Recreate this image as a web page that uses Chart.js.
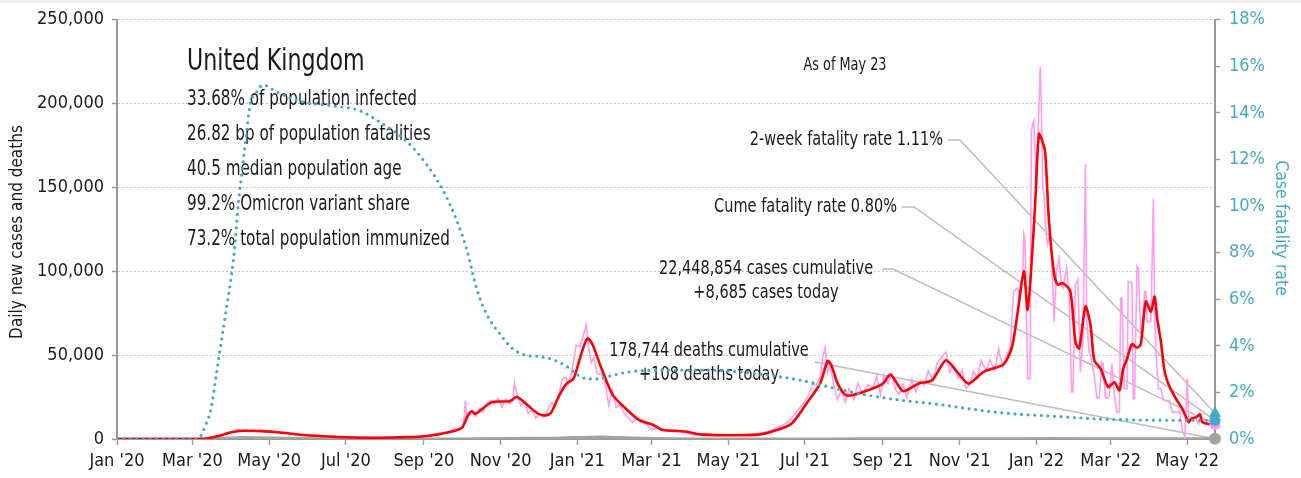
<!DOCTYPE html>
<html>
<head>
<meta charset="utf-8">
<title>United Kingdom COVID-19</title>
<script src="https://cdn.jsdelivr.net/npm/chart.js@4.4.0/dist/chart.umd.min.js"></script>
<style>
  html, body { margin: 0; padding: 0; background: #fff; }
  #wrap { position: relative; width: 1301px; height: 478px; }
  #topbar { position: absolute; left: 0; top: 0; width: 1301px; height: 3px; background: #eeeeee; }
  canvas { display: block; }
</style>
</head>
<body>
<div id="wrap">
  <canvas id="chart" width="1301" height="478"></canvas>
  <div id="topbar"></div>
</div>
<script>
    'use strict';

    // ============================================
    // Data
    // ============================================

    const lastDate = '2022-05-23';

    const tickDates = ['2020-01-01', '2020-03-01', '2020-05-01', '2020-07-01', '2020-09-01', '2020-11-01',
        '2021-01-01', '2021-03-01', '2021-05-01', '2021-07-01', '2021-09-01', '2021-11-01',
        '2022-01-01', '2022-03-01', '2022-05-01'];
    const tickLabels = ["Jan '20", "Mar '20", "May '20", "Jul '20", "Sep '20", "Nov '20",
        "Jan '21", "Mar '21", "May '21", "Jul '21", "Sep '21", "Nov '21",
        "Jan '22", "Mar '22", "May '22"];

    // Daily reported cases
    const dailyCases = [
        ['2020-01-01', 0], ['2020-02-28', 15], ['2020-03-10', 80], ['2020-03-16', 400], ['2020-03-21', 1300],
        ['2020-03-26', 2500], ['2020-03-31', 3600], ['2020-04-03', 4600], ['2020-04-06', 5800], ['2020-04-09', 4500],
        ['2020-04-12', 5600], ['2020-04-15', 4400], ['2020-04-18', 5500], ['2020-04-21', 4300], ['2020-04-24', 5400],
        ['2020-04-28', 4200], ['2020-05-02', 5000], ['2020-05-06', 4000], ['2020-05-10', 3600], ['2020-05-15', 3300],
        ['2020-05-20', 2800], ['2020-05-27', 2200], ['2020-06-05', 1700], ['2020-06-15', 1300], ['2020-06-25', 1100],
        ['2020-07-08', 800], ['2020-07-22', 700], ['2020-08-05', 850], ['2020-08-18', 1100], ['2020-08-28', 1400],
        ['2020-09-05', 2100], ['2020-09-11', 3300], ['2020-09-16', 3700], ['2020-09-21', 4300], ['2020-09-25', 6500],
        ['2020-09-29', 5500], ['2020-10-02', 7000], ['2020-10-03', 12800], ['2020-10-04', 23000], ['2020-10-05', 12500],
        ['2020-10-07', 14200], ['2020-10-10', 15500], ['2020-10-12', 13500], ['2020-10-15', 18000], ['2020-10-18', 16000],
        ['2020-10-21', 21300], ['2020-10-24', 23000], ['2020-10-27', 20500], ['2020-10-30', 24400], ['2020-11-02', 18900],
        ['2020-11-05', 24100], ['2020-11-08', 21000], ['2020-11-11', 22900], ['2020-11-12', 33500], ['2020-11-14', 26800],
        ['2020-11-17', 20000], ['2020-11-20', 22000], ['2020-11-23', 15500], ['2020-11-26', 17500], ['2020-11-29', 12300],
        ['2020-12-02', 14900], ['2020-12-05', 13000], ['2020-12-08', 16500], ['2020-12-11', 21600], ['2020-12-14', 20300],
        ['2020-12-17', 25200], ['2020-12-20', 35900], ['2020-12-23', 36800], ['2020-12-25', 32700], ['2020-12-28', 41400],
        ['2020-12-31', 55900], ['2021-01-03', 54900], ['2021-01-06', 62300], ['2021-01-08', 68100], ['2021-01-10', 54800],
        ['2021-01-12', 45500], ['2021-01-14', 48700], ['2021-01-17', 38600], ['2021-01-20', 38900], ['2021-01-23', 33600],
        ['2021-01-26', 20100], ['2021-01-29', 29100], ['2021-02-01', 18600], ['2021-02-04', 20600], ['2021-02-07', 15800],
        ['2021-02-10', 13000], ['2021-02-14', 9800], ['2021-02-17', 12700], ['2021-02-21', 9800], ['2021-02-25', 9000],
        ['2021-03-01', 5400], ['2021-03-05', 6600], ['2021-03-09', 5900], ['2021-03-14', 4600], ['2021-03-20', 5500],
        ['2021-03-27', 3800], ['2021-04-05', 2300], ['2021-04-12', 3600], ['2021-04-20', 2500], ['2021-04-30', 2400],
        ['2021-05-10', 2300], ['2021-05-20', 2900], ['2021-05-28', 3500], ['2021-06-05', 5300], ['2021-06-12', 7700],
        ['2021-06-18', 10500], ['2021-06-24', 16100], ['2021-06-29', 20500], ['2021-07-03', 24900], ['2021-07-07', 32500],
        ['2021-07-10', 32400], ['2021-07-13', 36700], ['2021-07-15', 48500], ['2021-07-17', 54700], ['2021-07-19', 39900],
        ['2021-07-21', 44100], ['2021-07-24', 31800], ['2021-07-27', 23500], ['2021-07-30', 29600], ['2021-08-02', 21900],
        ['2021-08-05', 30200], ['2021-08-09', 23500], ['2021-08-12', 33100], ['2021-08-16', 26700], ['2021-08-20', 32400],
        ['2021-08-24', 30500], ['2021-08-27', 37600], ['2021-08-30', 26500], ['2021-09-02', 38200], ['2021-09-05', 33000],
        ['2021-09-08', 38900], ['2021-09-11', 29500], ['2021-09-14', 26600], ['2021-09-17', 32700], ['2021-09-20', 24900],
        ['2021-09-24', 35600], ['2021-09-27', 28000], ['2021-10-01', 35000], ['2021-10-04', 31800], ['2021-10-07', 40700],
        ['2021-10-11', 34600], ['2021-10-14', 45100], ['2021-10-18', 49200], ['2021-10-21', 52000], ['2021-10-24', 39900],
        ['2021-10-27', 43900], ['2021-10-31', 36200], ['2021-11-03', 41300], ['2021-11-06', 30300], ['2021-11-09', 32300],
        ['2021-11-12', 40400], ['2021-11-15', 36100], ['2021-11-18', 46800], ['2021-11-22', 40900], ['2021-11-25', 47200],
        ['2021-11-29', 40900], ['2021-12-02', 53900], ['2021-12-05', 43000], ['2021-12-09', 51300], ['2021-12-11', 54000],
        ['2021-12-14', 88000], ['2021-12-17', 90000], ['2021-12-19', 84000], ['2021-12-21', 95000], ['2021-12-22', 122000],
        ['2021-12-23', 118000], ['2021-12-25', 36000], ['2021-12-27', 36000], ['2021-12-28', 183000], ['2021-12-29', 188000],
        ['2021-12-30', 190000], ['2022-01-01', 150000], ['2022-01-04', 222000], ['2022-01-05', 195000], ['2022-01-06', 150000],
        ['2022-01-07', 146000], ['2022-01-09', 120000], ['2022-01-10', 116000], ['2022-01-12', 124000], ['2022-01-14', 92000],
        ['2022-01-15', 70000], ['2022-01-17', 100000], ['2022-01-19', 108000], ['2022-01-21', 91000], ['2022-01-22', 90000],
        ['2022-01-25', 102000], ['2022-01-27', 88000], ['2022-01-29', 28000], ['2022-01-30', 28000], ['2022-02-01', 92000],
        ['2022-02-03', 95000], ['2022-02-05', 40000], ['2022-02-07', 60000], ['2022-02-09', 164000], ['2022-02-10', 70000],
        ['2022-02-12', 52000], ['2022-02-14', 46000], ['2022-02-16', 38000], ['2022-02-18', 24500], ['2022-02-20', 24500],
        ['2022-02-22', 46000], ['2022-02-23', 45000], ['2022-02-25', 24500], ['2022-02-27', 24500], ['2022-02-28', 26000],
        ['2022-03-02', 45000], ['2022-03-04', 26000], ['2022-03-06', 16000], ['2022-03-08', 16000], ['2022-03-09', 84000],
        ['2022-03-10', 84000], ['2022-03-12', 30000], ['2022-03-14', 30000], ['2022-03-15', 94000], ['2022-03-18', 93000],
        ['2022-03-19', 24000], ['2022-03-20', 24000], ['2022-03-22', 103000], ['2022-03-23', 102000], ['2022-03-25', 63000],
        ['2022-03-26', 63000], ['2022-03-28', 88000], ['2022-03-29', 88000], ['2022-03-30', 70000], ['2022-04-02', 70000],
        ['2022-04-04', 143000], ['2022-04-05', 70000], ['2022-04-06', 53000], ['2022-04-08', 30000], ['2022-04-10', 30000],
        ['2022-04-12', 23000], ['2022-04-17', 23000], ['2022-04-19', 16000], ['2022-04-25', 16000], ['2022-04-27', 5000],
        ['2022-04-29', 1400], ['2022-05-01', 36000], ['2022-05-02', 11000], ['2022-05-05', 11000], ['2022-05-07', 13000],
        ['2022-05-10', 9000], ['2022-05-12', 14000], ['2022-05-15', 9000], ['2022-05-18', 11000], ['2022-05-21', 8000],
        ['2022-05-23', 8685]
    ];

    // 7-day average of cases
    const avgCases = [
        ['2020-01-01', 0], ['2020-03-01', 10], ['2020-03-12', 300], ['2020-03-20', 1500], ['2020-04-01', 4000],
        ['2020-04-10', 4900], ['2020-04-25', 4700], ['2020-05-08', 4000], ['2020-05-31', 2200], ['2020-06-30', 1000],
        ['2020-07-23', 750], ['2020-08-20', 1100], ['2020-09-04', 1800], ['2020-09-20', 3900], ['2020-10-01', 6500],
        ['2020-10-06', 14000], ['2020-10-09', 16500], ['2020-10-12', 15000], ['2020-10-25', 22000], ['2020-11-08', 22500],
        ['2020-11-14', 25000], ['2020-11-22', 20500], ['2020-11-30', 15500], ['2020-12-06', 14000], ['2020-12-11', 15500],
        ['2020-12-18', 26500], ['2020-12-24', 33500], ['2020-12-29', 36000], ['2021-01-04', 50500], ['2021-01-09', 60000],
        ['2021-01-13', 56500], ['2021-01-20', 42500], ['2021-01-29', 26500], ['2021-02-08', 18500], ['2021-02-19', 11400],
        ['2021-03-02', 8500], ['2021-03-10', 5400], ['2021-03-28', 4500], ['2021-04-10', 2600], ['2021-05-05', 2200],
        ['2021-05-25', 2600], ['2021-06-05', 4500], ['2021-06-20', 9000], ['2021-07-03', 22000], ['2021-07-13', 33000],
        ['2021-07-19', 46500], ['2021-07-22', 44000], ['2021-07-27', 33000], ['2021-08-03', 26000], ['2021-08-16', 28000],
        ['2021-09-01', 33000], ['2021-09-07', 38500], ['2021-09-17', 28500], ['2021-09-29', 33000], ['2021-10-10', 35000],
        ['2021-10-21', 47000], ['2021-10-30', 40000], ['2021-11-08', 33000], ['2021-11-20', 40000], ['2021-12-05', 44000],
        ['2021-12-09', 48000], ['2021-12-13', 56000], ['2021-12-17', 75000], ['2021-12-22', 100000], ['2021-12-25', 77000],
        ['2021-12-28', 103000], ['2021-12-31', 140000], ['2022-01-03', 182000], ['2022-01-06', 177000], ['2022-01-08', 171000],
        ['2022-01-11', 130000], ['2022-01-15', 99000], ['2022-01-18', 92000], ['2022-01-22', 93000], ['2022-01-28', 88000],
        ['2022-02-01', 58000], ['2022-02-04', 54000], ['2022-02-09', 79000], ['2022-02-13', 68000], ['2022-02-16', 47000],
        ['2022-02-21', 42000], ['2022-02-27', 31000], ['2022-03-04', 33800], ['2022-03-08', 29000], ['2022-03-11', 41800],
        ['2022-03-14', 47700], ['2022-03-18', 56600], ['2022-03-22', 54400], ['2022-03-25', 56600], ['2022-03-29', 82000],
        ['2022-04-02', 76000], ['2022-04-05', 85000], ['2022-04-07', 72000], ['2022-04-10', 58000], ['2022-04-13', 40000],
        ['2022-04-17', 31000], ['2022-04-22', 24000], ['2022-04-27', 18000], ['2022-05-02', 10000], ['2022-05-04', 12000],
        ['2022-05-08', 13000], ['2022-05-11', 14700], ['2022-05-13', 10000], ['2022-05-23', 8300]
    ];

    // Daily deaths
    const dailyDeaths = [
        ['2020-01-01', 0], ['2020-03-10', 5], ['2020-03-25', 350], ['2020-04-10', 950], ['2020-05-01', 600],
        ['2020-06-01', 250], ['2020-07-01', 80], ['2020-09-01', 15], ['2020-10-15', 150], ['2020-11-25', 450],
        ['2020-12-15', 500], ['2021-01-20', 1250], ['2021-02-15', 550], ['2021-03-15', 80], ['2021-05-01', 15],
        ['2021-07-01', 20], ['2021-08-15', 90], ['2021-10-15', 140], ['2021-12-01', 120], ['2022-01-15', 270],
        ['2022-03-01', 130], ['2022-04-10', 220], ['2022-05-23', 108]
    ];

    // Case fatality rate, percent
    const fatalityRate = [
        ['2020-01-01', 0], ['2020-03-05', 0], ['2020-03-12', 0.68], ['2020-03-16', 1.36], ['2020-03-20', 2.8],
        ['2020-03-24', 4.2], ['2020-03-28', 5.6], ['2020-04-01', 7.05], ['2020-04-04', 8.45], ['2020-04-06', 9.85],
        ['2020-04-09', 11.3], ['2020-04-12', 12.7], ['2020-04-16', 14.4], ['2020-04-21', 14.9], ['2020-04-26', 15.2],
        ['2020-05-07', 14.9], ['2020-05-26', 14.5], ['2020-06-21', 14.3], ['2020-07-12', 14.1], ['2020-07-31', 13.5],
        ['2020-08-18', 12.8], ['2020-09-03', 11.8], ['2020-09-16', 10.7], ['2020-09-27', 9.4], ['2020-10-05', 8.15],
        ['2020-10-13', 6.45], ['2020-10-21', 5.35], ['2020-11-01', 4.47], ['2020-11-10', 3.9], ['2020-11-21', 3.6],
        ['2020-12-02', 3.54], ['2020-12-13', 3.4], ['2020-12-24', 3.1], ['2021-01-01', 2.76], ['2021-01-09', 2.58],
        ['2021-01-17', 2.58], ['2021-01-28', 2.72], ['2021-02-11', 2.88], ['2021-03-14', 2.96], ['2021-04-10', 2.96],
        ['2021-05-06', 2.9], ['2021-06-02', 2.74], ['2021-06-28', 2.52], ['2021-07-25', 2.17], ['2021-08-20', 1.88],
        ['2021-09-16', 1.66], ['2021-10-13', 1.5], ['2021-11-08', 1.3], ['2021-12-05', 1.12], ['2022-01-14', 0.98],
        ['2022-02-20', 0.86], ['2022-04-01', 0.81], ['2022-05-23', 0.80]
    ];

    const twoWeekRate = 1.11;
    const cumeRate = 0.80;
    const casesToday = 8685;
    const deathsToday = 108;

    const countryName = 'United Kingdom';
    const statLines = [
        '33.68% of population infected',
        '26.82 bp of population fatalities',
        '40.5 median population age',
        '99.2% Omicron variant share',
        '73.2% total population immunized'
    ];

    // ============================================
    // Helpers & styling
    // ============================================

    const FONT = '"DejaVu Sans Condensed", "Liberation Sans", sans-serif';
    const TEAL = '#45a9c3';
    const PINK = '#ff9cf2';
    const RED = '#ff0000';
    const GRAY = '#a3a3a3';
    const AXIS = '#9a9a9a';

    const dayOf = d => (Date.UTC(+d.slice(0, 4), +d.slice(5, 7) - 1, +d.slice(8, 10)) - Date.UTC(2020, 0, 1)) / 864e5;
    const toPoints = rows => rows.map(([d, v]) => ({ x: dayOf(d), y: v }));
    const lastDay = dayOf(lastDate);

    // Narrow text: squeeze horizontally around the anchor point
    function drawText(ctx, text, x, y, size, squeeze, align) {
        ctx.save();
        ctx.font = `${size}px ${FONT}`;
        ctx.textAlign = align;
        ctx.translate(x, y);
        ctx.scale(squeeze, 1);
        ctx.fillText(text, 0, 0);
        ctx.restore();
    }

    // Callout lines run from the text to the last data point
    const callouts = [
        { text: ['2-week fatality rate 1.11%'], align: 'right', x: 943, y: 140, from: [948, 140], elbow: [960, 140], axis: 'y1', value: twoWeekRate },
        { text: ['Cume fatality rate 0.80%'], align: 'right', x: 897, y: 207, from: [902, 207], elbow: [914, 207], axis: 'y1', value: cumeRate },
        { text: ['22,448,854 cases cumulative', '+8,685 cases today'], align: 'center', x: 766, y: 269, from: [882, 269], elbow: [893, 269], axis: 'y', value: casesToday },
        { text: ['178,744 deaths cumulative', '+108 deaths today'], align: 'center', x: 709, y: 351, from: [815, 362], elbow: null, axis: 'y', value: deathsToday }
    ];

    const textPlugin = {
        id: 'textLayer',
        beforeDatasetsDraw(chart) {
            const { ctx, scales: { x, y, y1 } } = chart;
            ctx.save();
            ctx.textBaseline = 'middle';
            ctx.fillStyle = '#1a1a1a';

            // Country block
            drawText(ctx, countryName, 187, 62, 30, 0.82, 'left');
            statLines.forEach((line, i) => drawText(ctx, line, 187, 100 + i * 35, 21, 0.805, 'left'));

            drawText(ctx, 'As of May 23', 845, 66, 17, 0.84, 'center');

            // Callouts
            ctx.strokeStyle = '#bdbdbd';
            ctx.lineWidth = 1.5;
            callouts.forEach(c => {
                c.text.forEach((t, i) => drawText(ctx, t, c.x, c.y + i * 24, 19, 0.85, c.align));
                const scale = c.axis === 'y1' ? y1 : y;
                ctx.beginPath();
                ctx.moveTo(c.from[0], c.from[1]);
                if (c.elbow) ctx.lineTo(c.elbow[0], c.elbow[1]);
                ctx.lineTo(x.getPixelForValue(lastDay), scale.getPixelForValue(c.value));
                ctx.stroke();
            });

            // Axis titles
            ctx.textAlign = 'center';
            ctx.font = `17px ${FONT}`;
            ctx.save();
            ctx.translate(18, 232);
            ctx.rotate(-Math.PI / 2);
            ctx.fillText('Daily new cases and deaths', 0, 0);
            ctx.restore();

            ctx.fillStyle = TEAL;
            ctx.font = `17.5px ${FONT}`;
            ctx.save();
            ctx.translate(1281, 228);
            ctx.rotate(Math.PI / 2);
            ctx.fillText('Case fatality rate', 0, 0);
            ctx.restore();

            ctx.restore();
        }
    };

    // ============================================
    // Chart
    // ============================================

    const ctx = document.getElementById('chart').getContext('2d');

    new Chart(ctx, {
        type: 'line',
        data: {
            datasets: [
                // end-of-series markers
                { data: [{ x: lastDay, y: twoWeekRate }], yAxisID: 'y1', showLine: false, pointStyle: 'triangle', pointRadius: 7, pointBackgroundColor: TEAL, pointBorderWidth: 0, clip: false, order: 0 },
                { data: [{ x: lastDay, y: cumeRate }], yAxisID: 'y1', showLine: false, pointRadius: 5.5, pointBackgroundColor: TEAL, pointBorderWidth: 0, clip: false, order: 0 },
                { data: [{ x: lastDay, y: casesToday }], yAxisID: 'y', showLine: false, pointRadius: 5.5, pointBackgroundColor: PINK, pointBorderWidth: 0, clip: false, order: 0 },
                { data: [{ x: lastDay, y: deathsToday }], yAxisID: 'y', showLine: false, pointRadius: 6, pointBackgroundColor: GRAY, pointBorderWidth: 0, clip: false, order: 0 },
                {
                    label: 'Case fatality rate',
                    data: toPoints(fatalityRate), yAxisID: 'y1',
                    borderColor: TEAL, borderWidth: 3.2, borderDash: [0, 6.6], borderCapStyle: 'round',
                    cubicInterpolationMode: 'monotone', pointRadius: 0, order: 1
                },
                {
                    label: '7-day average',
                    data: toPoints(avgCases), yAxisID: 'y',
                    borderColor: RED, borderWidth: 2.6, tension: 0.25, pointRadius: 0, order: 2
                },
                {
                    label: 'Daily cases',
                    data: toPoints(dailyCases), yAxisID: 'y',
                    borderColor: PINK, borderWidth: 1.6, tension: 0, pointRadius: 0, order: 3
                },
                {
                    label: 'Daily deaths',
                    data: toPoints(dailyDeaths), yAxisID: 'y',
                    borderColor: GRAY, borderWidth: 3, tension: 0.3, pointRadius: 0, order: 4
                }
            ]
        },
        options: {
            responsive: false,
            animation: false,
            devicePixelRatio: 1,
            layout: { padding: { top: 15, left: 0, right: 0, bottom: 0 } },
            plugins: { legend: { display: false }, tooltip: { enabled: false } },
            scales: {
                x: {
                    type: 'linear', min: 0, max: lastDay,
                    afterBuildTicks: s => { s.ticks = tickDates.map(d => ({ value: dayOf(d) })); },
                    afterFit: s => { s.height = 39; },
                    ticks: {
                        autoSkip: false, maxRotation: 0, padding: 6, color: '#1a1a1a',
                        font: { family: FONT, size: 18 },
                        callback: v => tickLabels[tickDates.findIndex(d => dayOf(d) === v)]
                    },
                    grid: { drawOnChartArea: false, tickLength: 6, tickColor: AXIS, tickWidth: 1.5 },
                    border: { color: AXIS, width: 2 }
                },
                y: {
                    position: 'left', min: 0, max: 250000,
                    afterFit: s => { s.width = 117; },
                    ticks: {
                        stepSize: 50000, padding: 8, color: '#1a1a1a',
                        font: { family: FONT, size: 18 },
                        callback: v => v.toLocaleString('en-US')
                    },
                    grid: { color: '#c4c4c4', lineWidth: 1, tickLength: 5, tickColor: AXIS, tickWidth: 1.5, tickBorderDash: [] },
                    border: { color: AXIS, width: 2, dash: [2, 2] }
                },
                y1: {
                    position: 'right', min: 0, max: 18,
                    afterFit: s => { s.width = 86; },
                    ticks: {
                        stepSize: 2, padding: 9, color: TEAL,
                        font: { family: FONT, size: 18 },
                        callback: v => v + '%'
                    },
                    grid: { drawOnChartArea: false, tickLength: 5, tickColor: AXIS, tickWidth: 1.5 },
                    border: { color: AXIS, width: 2 }
                }
            }
        },
        plugins: [textPlugin]
    });
</script>
</body>
</html>
